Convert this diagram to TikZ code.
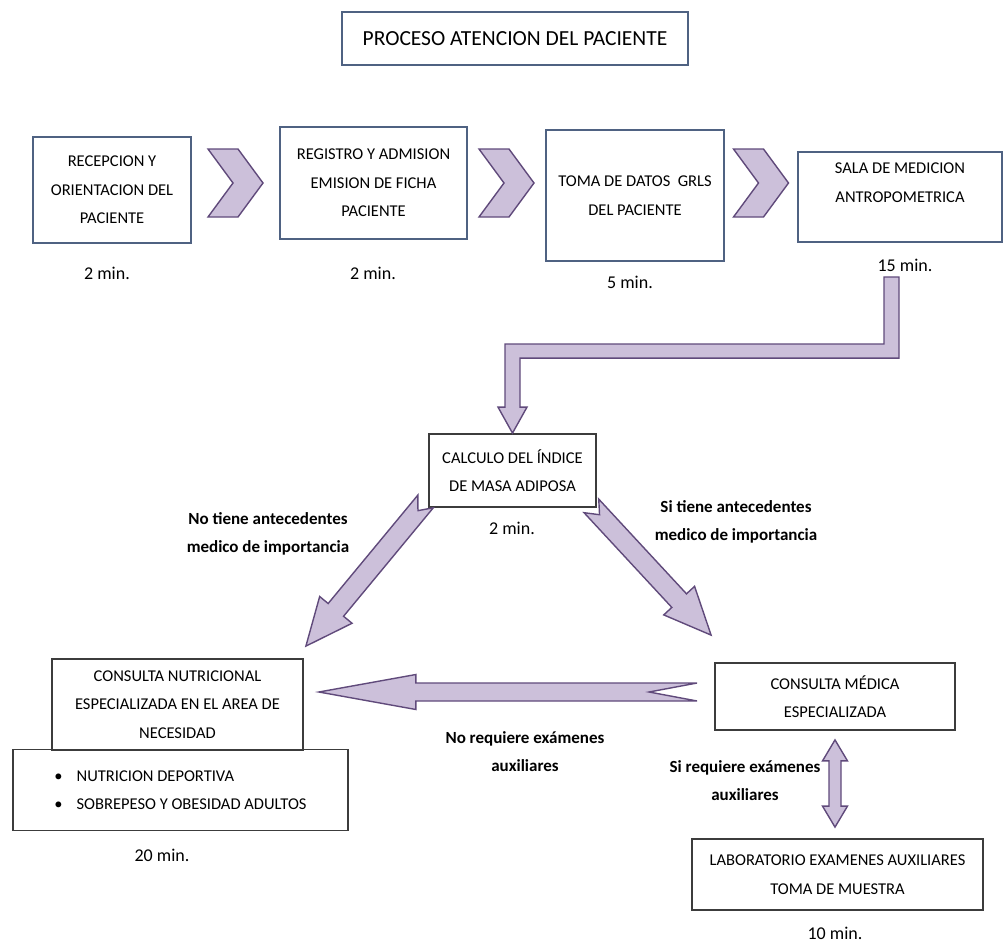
\documentclass[tikz,border=0pt]{standalone}
\usepackage{fontspec}
\setmainfont{Carlito}
\usepackage{tikz}
\usetikzlibrary{positioning, calc}

\definecolor{boxline}{RGB}{79,98,130}
\definecolor{darkline}{RGB}{60,60,60}
\definecolor{lila}{RGB}{204,192,218}
\definecolor{lilaline}{RGB}{96,74,123}

\tikzstyle{box} =
[
	draw=boxline,rectangle,line width=1.8pt,inner sep=0pt,align=center,
	font=\fontsize{16.5}{28.5}\selectfont
]
\tikzstyle{greybox} = [box, draw=darkline]
\tikzstyle{tiempo} = [font=\fontsize{18}{28}\selectfont]
\tikzstyle{rotulo} = [align=center, font=\bfseries\fontsize{17}{28}\selectfont]
\tikzstyle{flecha} = [fill=lila, draw=lilaline, line width=1.4pt, line join=miter]

% block arrow: tail, tip, half shaft, half head, head length, notch
\newcommand{\fatarrow}[6]{%
	\coordinate (fh) at ($(#2)!#5!(#1)$);
	\coordinate (fn) at ($(#1)!#6!(#2)$);
	\draw[flecha] ($(#1)!#3!90:(#2)$) -- ($(fh)!#3!90:(#2)$) -- ($(fh)!#4!90:(#2)$) -- (#2)
		-- ($(fh)!#4!-90:(#2)$) -- ($(fh)!#3!-90:(#2)$) -- ($(#1)!#3!-90:(#2)$) -- (fn) -- cycle;
}
% double block arrow: end, end, half shaft, half head, head length
\newcommand{\dblarrow}[5]{%
	\coordinate (da) at ($(#1)!#5!(#2)$);
	\coordinate (db) at ($(#2)!#5!(#1)$);
	\draw[flecha] (#1) -- ($(da)!#4!90:(#2)$) -- ($(da)!#3!90:(#2)$) -- ($(db)!#3!-90:(#1)$)
		-- ($(db)!#4!-90:(#1)$) -- (#2) -- ($(db)!#4!90:(#1)$) -- ($(db)!#3!90:(#1)$)
		-- ($(da)!#3!-90:(#2)$) -- ($(da)!#4!-90:(#2)$) -- cycle;
}
\newcommand{\chevron}[1]{%
	\draw[flecha] (#1) ++(-27.5,-34) -- ++(30,0) -- ++(25,34) -- ++(-25,34) -- ++(-30,0) -- ++(25,-34) -- cycle;
}

\begin{document}
\begin{tikzpicture}[x=1pt,y=-1pt]
\useasboundingbox (0,0) rectangle (1004,942);

\node[box, minimum width=346pt, minimum height=53pt, font=\fontsize{21.5}{24}\selectfont] (titulo) at (515,38.5) {PROCESO ATENCION DEL PACIENTE};

\node[box, minimum width=158pt, minimum height=106pt] (recep) at (112,190) {RECEPCION Y\\ORIENTACION DEL\\PACIENTE};
\node[box, minimum width=187pt, minimum height=112pt] (registro) at (373.5,183) {REGISTRO Y ADMISION\\EMISION DE FICHA\\PACIENTE};
\node[box, minimum width=178pt, minimum height=131pt] (datos) at (635,195.5) {TOMA DE DATOS~~GRLS\\DEL PACIENTE};
\node[box, minimum width=204pt, minimum height=90pt] (sala) at (900,197) {SALA DE MEDICION\\ANTROPOMETRICA\\ };

\node[tiempo] (t1) at (107,273) {2 min.};
\node[tiempo] (t2) at (373,273) {2 min.};
\node[tiempo] (t3) at (630,282) {5 min.};
\node[tiempo] (t4) at (905,265) {15 min.};

\path (recep.east) -- (registro.west) coordinate[midway] (ch1);
\path (registro.east) -- (datos.west) coordinate[midway] (ch2);
\path (datos.east) -- (sala.west) coordinate[midway] (ch3);
\chevron{ch1 |- registro.center}
\chevron{ch2 |- registro.center}
\chevron{ch3 |- registro.center}

\node[greybox, minimum width=167pt, minimum height=73pt] (calc) at (512.5,470.5) {CALCULO DEL ÍNDICE\\DE MASA ADIPOSA};
\node[tiempo] (t5) at (512,528) {2 min.};

% bent arrow from the measuring room down to the index
\coordinate (bajada) at (891.5,277);
\draw[flecha] ($(bajada)+(-7.5,0)$) -- ($(bajada)+(7.5,0)$) |- ($(calc.north)+(7.5,-75)$)
	-- ($(calc.north)+(7.5,-26)$) -- ++(7,0) -- (calc.north) -- ($(calc.north)+(-14.5,-26)$)
	-- ++(7,0) |- ($(bajada)+(-7.5,67)$) -- cycle;

\node[greybox, minimum width=251pt, minimum height=91pt] (nutri) at (177.5,704.5) {CONSULTA NUTRICIONAL\\ESPECIALIZADA EN EL AREA DE\\NECESIDAD};
\node[greybox, minimum width=335pt, minimum height=81pt, align=left] (lista) at (180.5,790) {\textbullet\hspace{14pt}NUTRICION DEPORTIVA\\\textbullet\hspace{14pt}SOBREPESO Y OBESIDAD ADULTOS};
\node[tiempo] (t6) at (162,855) {20 min.};

\node[greybox, minimum width=240pt, minimum height=67pt] (medica) at (835,696.5) {CONSULTA MÉDICA\\ESPECIALIZADA};
\node[greybox, minimum width=291pt, minimum height=71pt] (lab) at (837.5,874.5) {LABORATORIO EXAMENES AUXILIARES\\TOMA DE MUESTRA};
\node[tiempo] (t7) at (835,933) {10 min.};

\node[rotulo] (noAnt) at (268,534) {No tiene antecedentes\\medico de importancia};
\node[rotulo] (siAnt) at (736,522) {Si tiene antecedentes\\medico de importancia};
\node[rotulo] (noReq) at (525,752) {No requiere exámenes\\auxiliares};
\node[rotulo] (siReq) at (745,781) {Si requiere exámenes\\auxiliares};

\coordinate (noTail) at ($(calc.south west)+(-2.5,-6.5)$);
\coordinate (noTip) at ($(nutri.north east)+(2,-12)$);
\coordinate (siTail) at ($(calc.south east)+(-5.5,-2)$);
\coordinate (siTip) at ($(medica.north west)+(-3,-27)$);
\coordinate (reqTail) at ($(medica.west)+(-17,-4.5)$);
\coordinate (reqTip) at ($(nutri.east)+(15,-12.5)$);
\coordinate (labTop) at ($(medica.south)+(0,9)$);
\coordinate (labBot) at ($(lab.north)+(-2.5,-11)$);

\fatarrow{noTail}{noTip}{10pt}{21pt}{47pt}{12pt}
\fatarrow{siTail}{siTip}{10pt}{21pt}{47pt}{12pt}
\fatarrow{reqTail}{reqTip}{9pt}{17.5pt}{97pt}{48pt}
\dblarrow{labTop}{labBot}{6pt}{12.5pt}{21pt}

\end{tikzpicture}
\end{document}
